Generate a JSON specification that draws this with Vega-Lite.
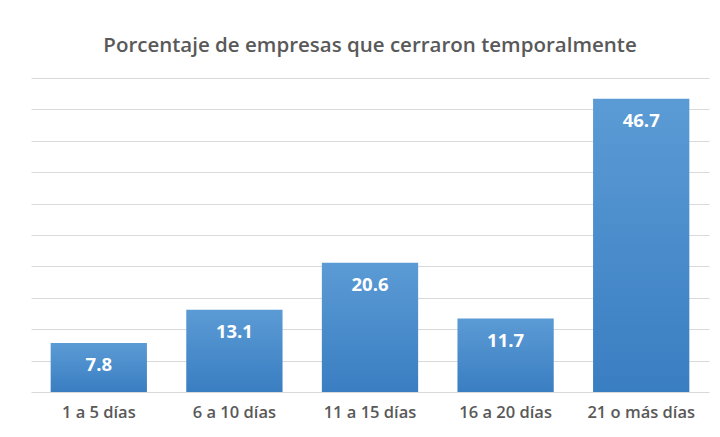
{
  "$schema": "https://vega.github.io/schema/vega-lite/v6.json",
  "autosize": "none",
  "width": 678,
  "height": 314,
  "padding": {"left": 31, "top": 78, "right": 11, "bottom": 45},
  "background": "white",
  "title": {
    "text": "Porcentaje de empresas que cerraron temporalmente",
    "font": "Open Sans",
    "fontSize": 20.5,
    "fontWeight": 600,
    "color": "#595959",
    "baseline": "alphabetic",
    "offset": 6,
    "anchor": "middle"
  },
  "config": {
    "view": {"stroke": null},
    "font": "Open Sans"
  },
  "data": {
    "values": [
      {"cat": "1 a 5 días", "value": 7.8},
      {"cat": "6 a 10 días", "value": 13.1},
      {"cat": "11 a 15 días", "value": 20.6},
      {"cat": "16 a 20 días", "value": 11.7},
      {"cat": "21 o más días", "value": 46.7}
    ]
  },
  "encoding": {
    "x": {
      "field": "cat",
      "type": "nominal",
      "sort": null,
      "scale": {"paddingInner": 0.29, "paddingOuter": 0.145},
      "axis": {
        "title": null,
        "labelAngle": 0,
        "labelFont": "Open Sans",
        "labelFontSize": 16.5,
        "labelFontWeight": 600,
        "labelColor": "#595959",
        "labelPadding": 12,
        "domain": false,
        "ticks": false
      }
    },
    "y": {
      "field": "value",
      "type": "quantitative",
      "scale": {"domain": [0, 50], "nice": false},
      "axis": {
        "title": null,
        "labels": false,
        "ticks": false,
        "domain": false,
        "values": [0, 5, 10, 15, 20, 25, 30, 35, 40, 45, 50],
        "gridColor": "#D9D9D9",
        "gridWidth": 1
      }
    }
  },
  "layer": [
    {
      "mark": {
        "type": "bar",
        "color": {
          "gradient": "linear",
          "x1": 0, "y1": 0, "x2": 0, "y2": 1,
          "stops": [
            {"offset": 0, "color": "#5B9BD5"},
            {"offset": 1, "color": "#3A7EC2"}
          ]
        }
      }
    },
    {
      "mark": {
        "type": "text",
        "color": "white",
        "font": "Open Sans",
        "fontSize": 18.5,
        "fontWeight": "bold",
        "baseline": "top",
        "dy": 13
      },
      "encoding": {
        "text": {"field": "value", "type": "quantitative", "format": ".1f"}
      }
    }
  ]
}
